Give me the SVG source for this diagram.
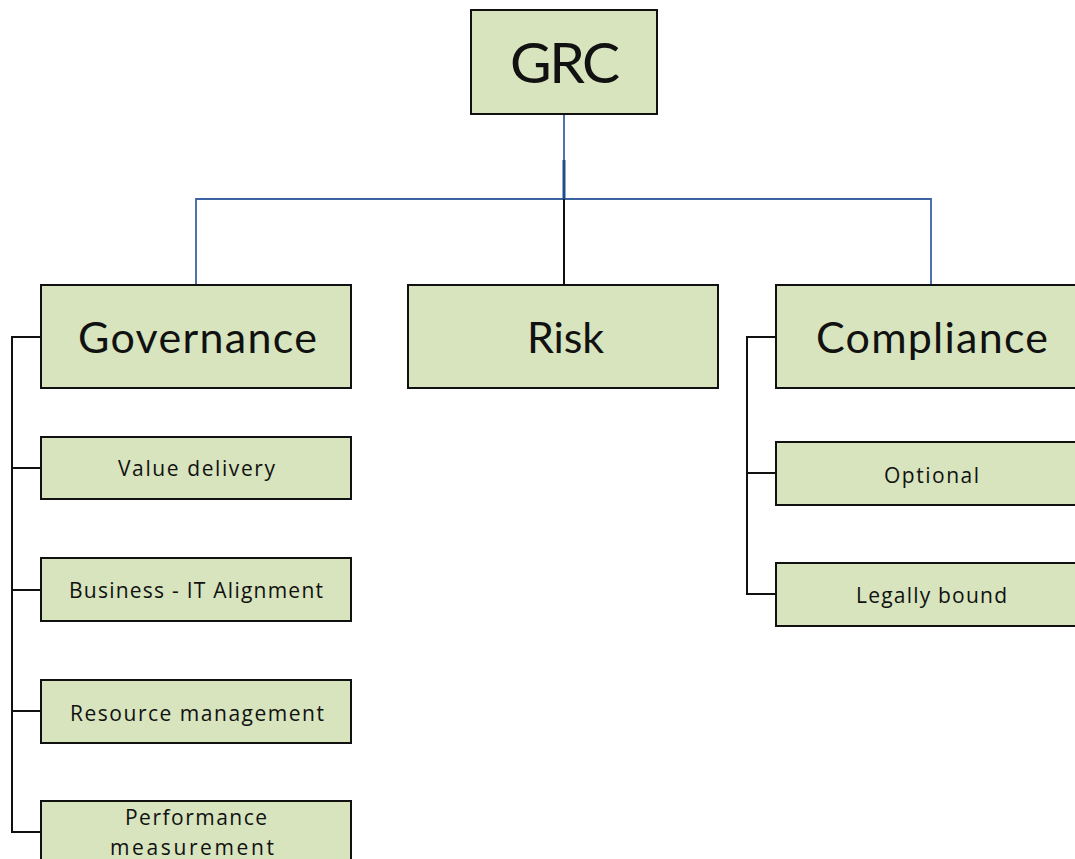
<svg xmlns="http://www.w3.org/2000/svg" width="1075" height="859" viewBox="0 0 1075 859">
<style>
.box{fill:#d7e4bd;stroke:#111;stroke-width:2}
.t{font-family:Lato,"Liberation Sans",sans-serif;fill:#111;text-anchor:start}
.big{font-size:43px}
.sm{font-family:"Open Sans","Noto Sans",sans-serif;font-size:21px}
.blk{stroke:#111;stroke-width:2;fill:none}
.blu{stroke:#3b64a0;stroke-width:1.8;fill:none}
</style>
<rect width="1075" height="859" fill="#fff"/>
<g id="connectors">
<path class="blu" d="M564 114V199M196 285V199H931V285"/>
<path d="M564 160V199" stroke="#1f4e8c" stroke-width="3"/>
<path class="blk" d="M564 199V285"/>
<path class="blk" d="M41 337H12V832H41M12 468H41M12 590H41M12 711H41"/>
<path class="blk" d="M776 337H747V594H776M747 473H776"/>
</g>
<g id="grc"><rect class="box" x="471" y="10" width="186" height="104"/><text class="t" x="510" y="83" font-size="57" textLength="110" lengthAdjust="spacing">GRC</text></g>
<g id="governance"><rect class="box" x="41" y="285" width="310" height="103"/><text class="t big" x="78" y="353" textLength="239" lengthAdjust="spacing">Governance</text></g>
<g id="risk"><rect class="box" x="408" y="285" width="310" height="103"/><text class="t big" x="527" y="353" textLength="77" lengthAdjust="spacing">Risk</text></g>
<g id="compliance"><rect class="box" x="776" y="285" width="310" height="103"/><text class="t big" x="816" y="353" textLength="232" lengthAdjust="spacing">Compliance</text></g>
<g id="value-delivery"><rect class="box" x="41" y="437" width="310" height="62"/><text class="t sm" x="118" y="476" textLength="157" lengthAdjust="spacing">Value delivery</text></g>
<g id="business-it"><rect class="box" x="41" y="558" width="310" height="63"/><text class="t sm" x="69" y="598" textLength="254" lengthAdjust="spacing">Business - IT Alignment</text></g>
<g id="resource-management"><rect class="box" x="41" y="680" width="310" height="63"/><text class="t sm" x="70" y="721" textLength="254" lengthAdjust="spacing">Resource management</text></g>
<g id="performance-measurement"><rect class="box" x="41" y="801" width="310" height="70"/><text class="t sm" x="125" y="825" textLength="142" lengthAdjust="spacing">Performance</text><text class="t sm" x="110" y="855" textLength="164" lengthAdjust="spacing">measurement</text></g>
<g id="optional"><rect class="box" x="776" y="442" width="310" height="63"/><text class="t sm" x="884" y="483" textLength="95" lengthAdjust="spacing">Optional</text></g>
<g id="legally-bound"><rect class="box" x="776" y="563" width="310" height="63"/><text class="t sm" x="856" y="603" textLength="151" lengthAdjust="spacing">Legally bound</text></g>
</svg>
